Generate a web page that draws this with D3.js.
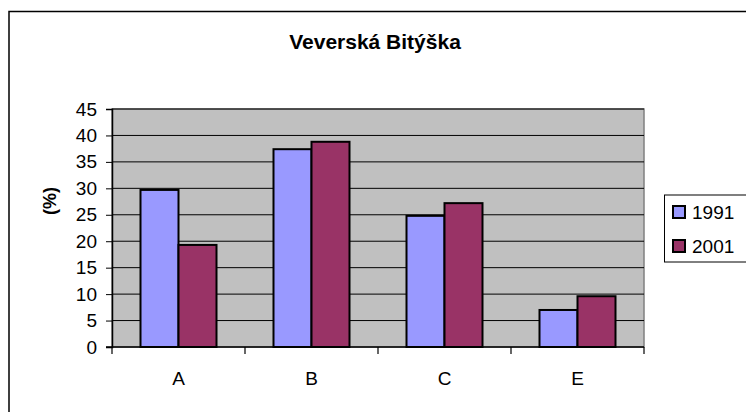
<!DOCTYPE html>
<html>
<head>
<meta charset="utf-8">
<script src="https://cdn.jsdelivr.net/npm/d3@7"></script>
<style>
body{margin:0;background:#fff}
svg text{font-family:Arial,"Liberation Sans",sans-serif}
</style>
</head>
<body>
<svg id="main_svg" width="746" height="412"></svg>
<script>
let categories = ["A", "B", "C", "E"]
let series = ["1991", "2001"]
let values1991 = [29.7, 37.4, 24.8, 7.0]
let values2001 = [19.3, 38.8, 27.2, 9.6]
let yTicks = [0, 5, 10, 15, 20, 25, 30, 35, 40, 45]
let colors = ["#9999ff", "#993366"]

let svg = d3.select("#main_svg")

// outer chart border (runs off the right and bottom edge)
svg.append("rect")
    .attr("x", 9).attr("y", 11.5)
    .attr("width", 760).attr("height", 420)
    .attr("fill", "none").attr("stroke", "#000").attr("stroke-width", 1.5)

let plotL = 112, plotR = 644, plotT = 109, plotB = 347

let x = d3.scaleBand().domain(categories).range([plotL, plotR])
let xs = d3.scaleBand().domain(series).range([0, x.bandwidth()]).paddingOuter(0.75)
let y = d3.scaleLinear().domain([0, 45]).range([plotB, plotT])

// plot area
svg.append("rect")
    .attr("x", plotL).attr("y", plotT)
    .attr("width", plotR - plotL).attr("height", plotB - plotT)
    .attr("fill", "#c0c0c0").attr("stroke", "#808080").attr("stroke-width", 1.5)

// gridlines
svg.append("g").selectAll("line")
    .data(yTicks.slice(1))
    .join("line")
    .attr("x1", plotL).attr("x2", plotR)
    .attr("y1", d => y(d)).attr("y2", d => y(d))
    .attr("stroke", "#000").attr("stroke-width", 1)

// bars
let rows = categories.map((c, i) => ({cat: c, vals: [values1991[i], values2001[i]]}))
let groups = svg.append("g").selectAll("g")
    .data(rows)
    .join("g")
    .attr("transform", d => "translate(" + x(d.cat) + ",0)")

groups.selectAll("rect")
    .data(d => d.vals.map((v, j) => ({s: series[j], v: v, j: j})))
    .join("rect")
    .attr("x", d => xs(d.s))
    .attr("y", d => y(d.v))
    .attr("width", xs.bandwidth())
    .attr("height", d => y(0) - y(d.v))
    .attr("fill", d => colors[d.j])
    .attr("stroke", "#000").attr("stroke-width", 2)

// y axis
let yAxis = svg.append("g")
    .attr("transform", "translate(" + plotL + ",0)")
    .call(d3.axisLeft(y).tickValues(yTicks).tickSize(6).tickPadding(9))
yAxis.select(".domain").attr("stroke", "#000").attr("stroke-width", 1.5)
yAxis.selectAll("text").attr("font-size", 19).attr("fill", "#000")
    .style("font-family", "Arial, 'Liberation Sans', sans-serif")

// x axis
let xAxis = svg.append("g")
    .attr("transform", "translate(0," + plotB + ")")
xAxis.append("line")
    .attr("x1", plotL - 6).attr("x2", plotR)
    .attr("stroke", "#000").attr("stroke-width", 1.5)
xAxis.selectAll(".tk")
    .data(categories.concat(["end"]))
    .join("line")
    .attr("class", "tk")
    .attr("x1", (d, i) => i < categories.length ? x(d) : plotR)
    .attr("x2", (d, i) => i < categories.length ? x(d) : plotR)
    .attr("y1", 0).attr("y2", 7)
    .attr("stroke", "#000").attr("stroke-width", 1.2)
xAxis.selectAll("text")
    .data(categories)
    .join("text")
    .attr("x", d => x(d) + x.bandwidth() / 2)
    .attr("y", 38)
    .attr("text-anchor", "middle")
    .attr("font-size", 19)
    .text(d => d)

// title
svg.append("text")
    .attr("x", 375).attr("y", 49)
    .attr("text-anchor", "middle")
    .attr("font-size", 21).attr("font-weight", "bold")
    .text("Veverská Bitýška")

// y label
svg.append("text")
    .attr("transform", "translate(56,201) rotate(-90)")
    .attr("text-anchor", "middle")
    .attr("font-size", 18).attr("font-weight", "bold")
    .text("(%)")

// legend
let legend = svg.append("g")
legend.append("rect")
    .attr("x", 664.5).attr("y", 195)
    .attr("width", 100).attr("height", 67)
    .attr("fill", "#fff").attr("stroke", "#000").attr("stroke-width", 1)
let items = legend.selectAll("g")
    .data(series)
    .join("g")
    .attr("transform", (d, i) => "translate(673," + (206 + i * 34) + ")")
items.append("rect")
    .attr("width", 12).attr("height", 12)
    .attr("fill", (d, i) => colors[i])
    .attr("stroke", "#000").attr("stroke-width", 2)
items.append("text")
    .attr("x", 19).attr("y", 12.5)
    .attr("font-size", 19)
    .text(d => d)
</script>
</body>
</html>
